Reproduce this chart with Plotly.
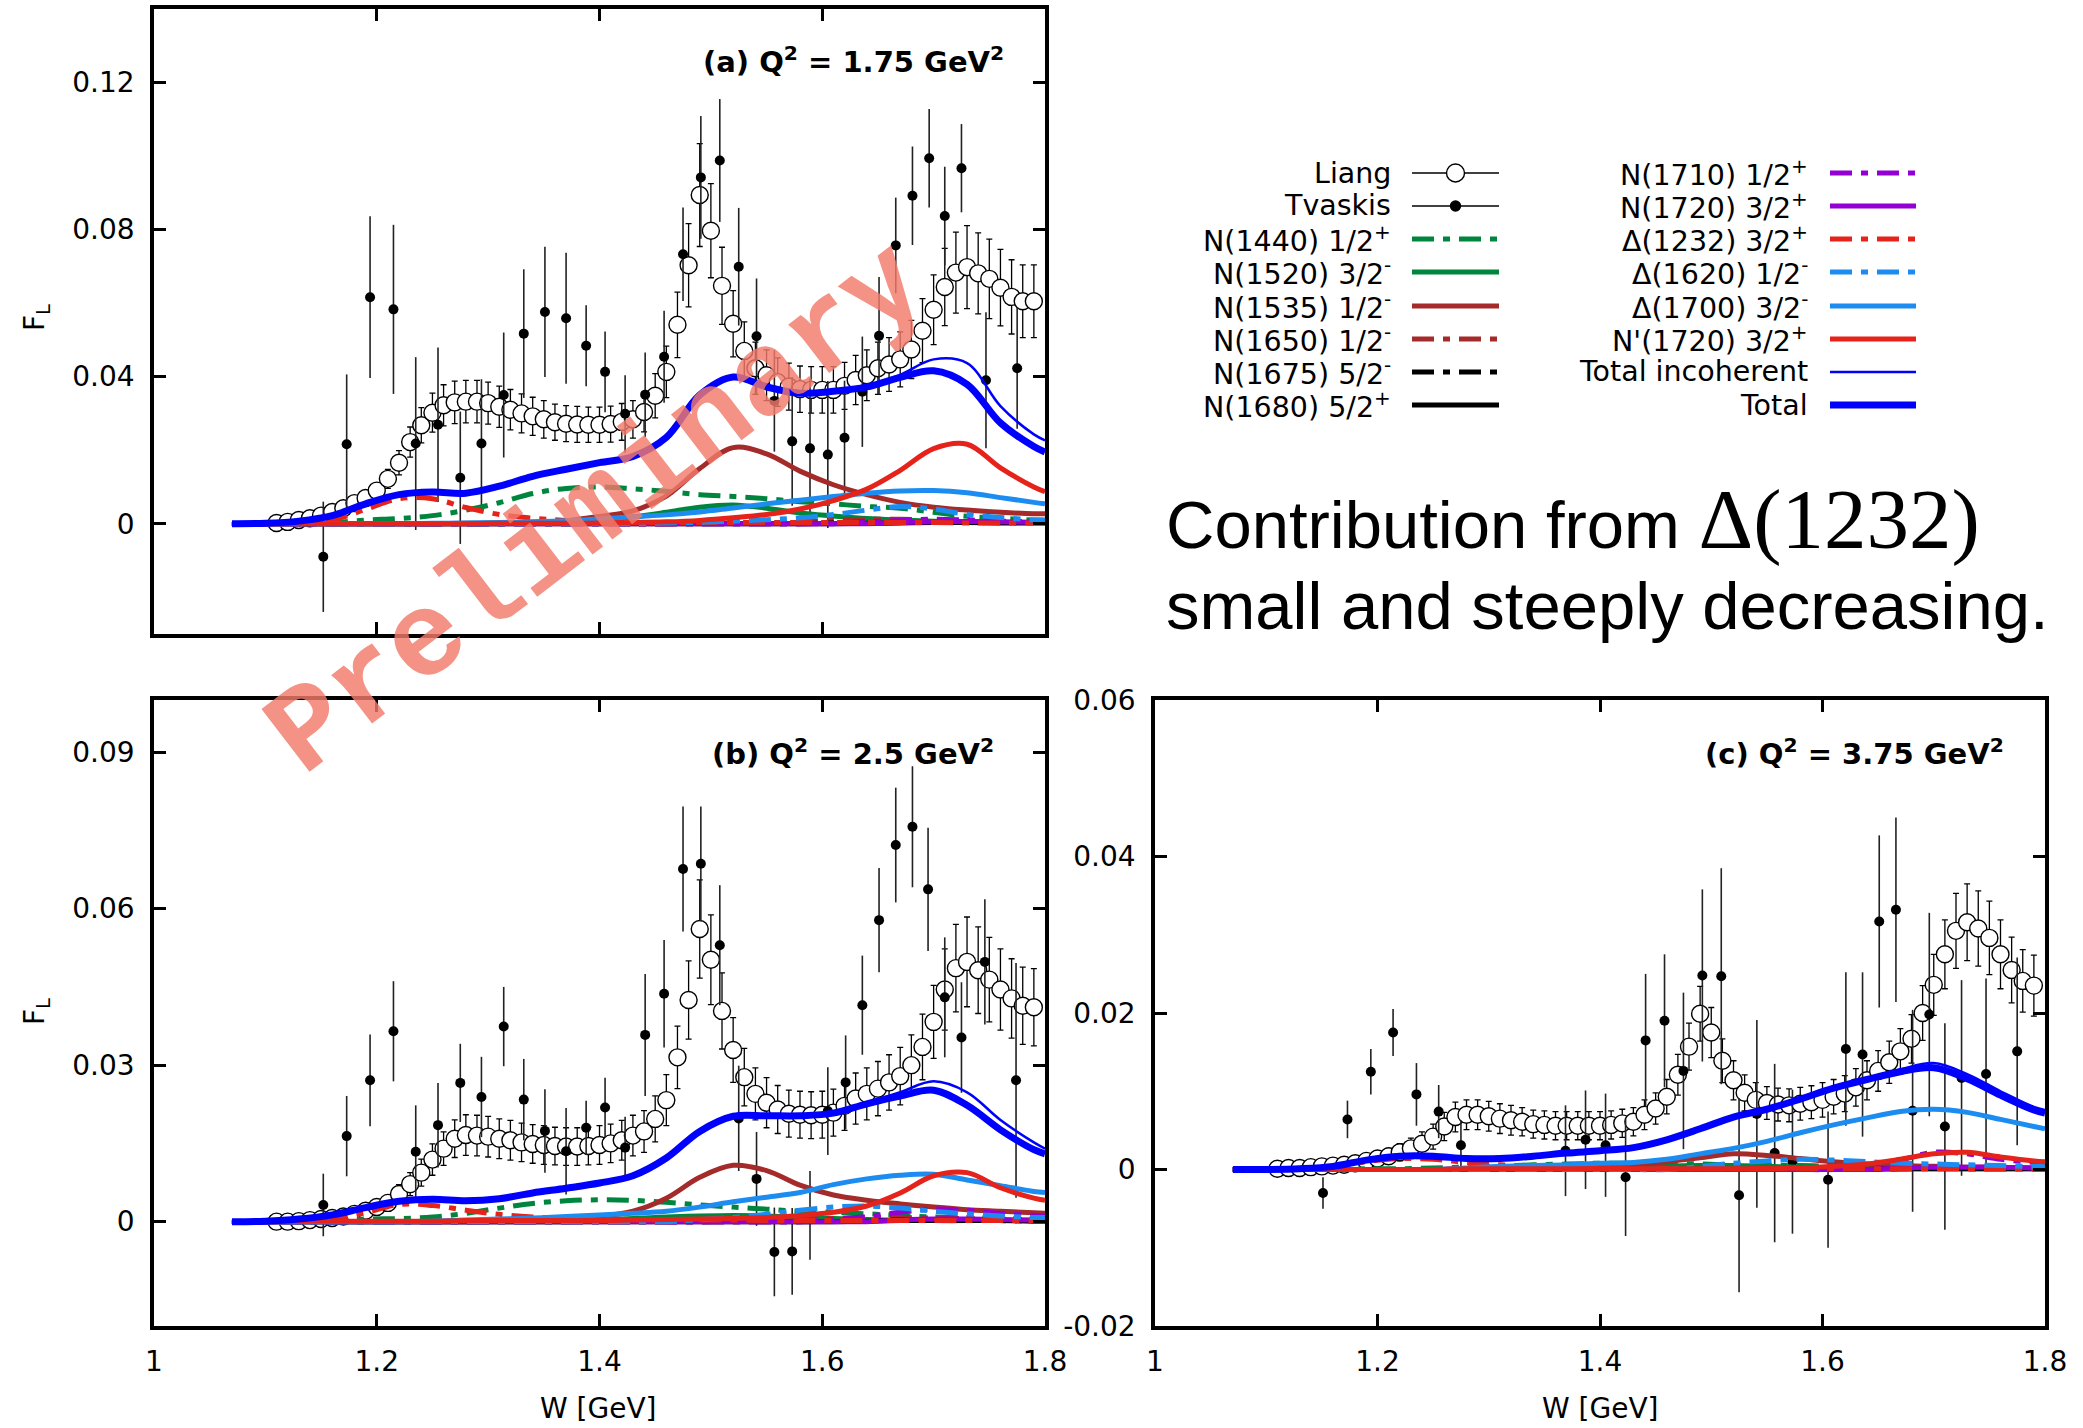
import plotly.graph_objects as go

W_PX, H_PX = 2083, 1428

# ---------------- data ----------------
W_curve = [1.07, 1.10, 1.13, 1.16, 1.19, 1.22, 1.25, 1.28, 1.31, 1.34, 1.37, 1.40, 1.43,
           1.46, 1.49, 1.52, 1.55, 1.58, 1.61, 1.64, 1.67, 1.70, 1.73, 1.76, 1.79, 1.80]

W_liang = [1.11, 1.12, 1.13, 1.14, 1.15, 1.16, 1.17, 1.18, 1.19, 1.20, 1.21, 1.22, 1.23,
           1.24, 1.25, 1.26, 1.27, 1.28, 1.29, 1.30, 1.31, 1.32, 1.33, 1.34, 1.35, 1.36,
           1.37, 1.38, 1.39, 1.40, 1.41, 1.42, 1.43, 1.44, 1.45, 1.46, 1.47, 1.48, 1.49,
           1.50, 1.51, 1.52, 1.53, 1.54, 1.55, 1.56, 1.57, 1.58, 1.59, 1.60, 1.61, 1.62,
           1.63, 1.64, 1.65, 1.66, 1.67, 1.68, 1.69, 1.70, 1.71, 1.72, 1.73, 1.74, 1.75,
           1.76, 1.77, 1.78, 1.79]

# ---- panel (a) Q2 = 1.75
a_liang = [0.0002, 0.0005, 0.0010, 0.0015, 0.0022, 0.0032, 0.0042, 0.0056, 0.0070, 0.0090,
           0.0122, 0.0166, 0.0222, 0.0268, 0.0302, 0.0322, 0.0330, 0.0332, 0.0332, 0.0328,
           0.0318, 0.0310, 0.0300, 0.0292, 0.0284, 0.0276, 0.0272, 0.0270, 0.0269, 0.0269,
           0.0271, 0.0277, 0.0284, 0.0304, 0.0348, 0.0413, 0.0541, 0.0703, 0.0894, 0.0797,
           0.0647, 0.0544, 0.0470, 0.0423, 0.0404, 0.0385, 0.0373, 0.0366, 0.0364, 0.0364,
           0.0364, 0.0375, 0.0391, 0.0404, 0.0423, 0.0433, 0.0447, 0.0474, 0.0525, 0.0582,
           0.0644, 0.0683, 0.0698, 0.0681, 0.0666, 0.0642, 0.0617, 0.0605, 0.0605]
a_liang_err = [0.0008, 0.0009, 0.0010, 0.0010, 0.0011, 0.0013, 0.0014, 0.0016, 0.0019, 0.0022,
               0.0026, 0.0033, 0.0041, 0.0048, 0.0053, 0.0056, 0.0058, 0.0058, 0.0058, 0.0057,
               0.0056, 0.0055, 0.0053, 0.0052, 0.0051, 0.0049, 0.0049, 0.0049, 0.0048, 0.0048,
               0.0049, 0.0050, 0.0051, 0.0054, 0.0060, 0.0070, 0.0089, 0.0113, 0.0140, 0.0128,
               0.0105, 0.0090, 0.0079, 0.0071, 0.0069, 0.0066, 0.0064, 0.0063, 0.0063, 0.0063,
               0.0063, 0.0064, 0.0067, 0.0069, 0.0071, 0.0073, 0.0075, 0.0079, 0.0087, 0.0095,
               0.0105, 0.0110, 0.0113, 0.0110, 0.0108, 0.0104, 0.0101, 0.0099, 0.0099]

a_W_tv = [1.152, 1.173, 1.194, 1.215, 1.235, 1.255, 1.275, 1.294, 1.314, 1.332, 1.351, 1.370,
          1.388, 1.405, 1.423, 1.441, 1.458, 1.475, 1.491, 1.508, 1.525, 1.541, 1.557, 1.573,
          1.589, 1.605, 1.620, 1.636, 1.651, 1.666, 1.681, 1.696, 1.710, 1.725, 1.747, 1.775]
a_tv = [-0.0090, 0.0216, 0.0616, 0.0583, 0.0218, 0.0269, 0.0125, 0.0218, 0.0350, 0.0517,
        0.0576, 0.0559, 0.0484, 0.0413, 0.0299, 0.0351, 0.0454, 0.0733, 0.0942, 0.0988,
        0.0699, 0.0510, 0.0334, 0.0224, 0.0205, 0.0188, 0.0234, 0.0359, 0.0511, 0.0757,
        0.0892, 0.0994, 0.0837, 0.0967, 0.0390, 0.0423]
a_tv_err = [0.0150, 0.0190, 0.0220, 0.0230, 0.0235, 0.0210, 0.0180, 0.0175, 0.0170, 0.0175,
            0.0177, 0.0178, 0.0110, 0.0110, 0.0105, 0.0115, 0.0125, 0.0127, 0.0167, 0.0167,
            0.0160, 0.0157, 0.0138, 0.0175, 0.0190, 0.0200, 0.0155, 0.0150, 0.0160, 0.0130,
            0.0134, 0.0134, 0.0134, 0.0120, 0.0185, 0.0165]

a_N1440 = [0, 0, 0.0001, 0.0003, 0.0010, 0.0014, 0.0022, 0.0037, 0.0057, 0.0082, 0.0096, 0.0100, 0.0095,
           0.0088, 0.0079, 0.0074, 0.0068, 0.0060, 0.0054, 0.0047, 0.0042, 0.0031, 0.0020, 0.0015, 0.0010, 0.0010]
a_N1520 = [0, 0, 0, 0, 0, 0, 0, 0, 0, 0.0002, 0.0004, 0.0008, 0.0018,
           0.0031, 0.0045, 0.0051, 0.0042, 0.0029, 0.0021, 0.0014, 0.0010, 0.0007, 0.0005, 0.0004, 0.0003, 0.0003]
a_N1535 = [0, 0, 0, 0, 0, 0, 0, 0.0001, 0.0002, 0.0004, 0.0008, 0.0020, 0.0035,
           0.0075, 0.0150, 0.0207, 0.0190, 0.0143, 0.0106, 0.0079, 0.0058, 0.0045, 0.0037, 0.0031, 0.0027, 0.0027]
a_N1650 = [0, 0, 0, 0, 0, 0, 0, 0, 0, 0, 0, 0, 0,
           0, 0.0001, 0.0001, 0.0002, 0.0005, 0.0009, 0.0012, 0.0012, 0.0010, 0.0008, 0.0006, 0.0005, 0.0005]
a_N1675 = [0, 0, 0, 0, 0, 0, 0, 0, 0, 0, 0, 0, 0,
           0, 0, 0, 0, 0, 0.0002, 0.0004, 0.0005, 0.0005, 0.0004, 0.0003, 0.0003, 0.0003]
a_N1680 = [0, 0, 0, 0, 0, 0, 0, 0, 0, 0, 0, 0, 0,
           0, 0, 0, 0, 0, 0, 0.0001, 0.0002, 0.0003, 0.0003, 0.0002, 0.0002, 0.0002]
a_N1710 = [0, 0, 0, 0, 0, 0, 0, 0, 0, 0, 0, 0, 0,
           0, 0, 0, 0, 0, 0, 0.0004, 0.0009, 0.0012, 0.0010, 0.0007, 0.0005, 0.0005]
a_N1720 = [0, 0, 0, 0, 0, 0, 0, 0, 0, 0, 0, 0, 0,
           0, 0, 0, 0, 0, 0, 0, 0.0003, 0.0005, 0.0006, 0.0005, 0.0004, 0.0004]
a_D1232 = [0, 0, 0.0002, 0.0010, 0.0039, 0.0068, 0.0068, 0.0044, 0.0025, 0.0015, 0.0009, 0.0006, 0.0004,
           0.0003, 0.0003, 0.0003, 0.0003, 0.0003, 0.0003, 0.0003, 0.0003, 0.0003, 0.0002, 0.0002, 0.0002, 0.0002]
a_D1620 = [0, 0, 0, 0, 0, 0, 0, 0, 0, 0, 0, 0, 0,
           0.0002, 0.0004, 0.0007, 0.0011, 0.0016, 0.0025, 0.0037, 0.0047, 0.0040, 0.0025, 0.0017, 0.0010, 0.0009]
a_D1700 = [0, 0, 0, 0, 0, 0, 0.0001, 0.0002, 0.0003, 0.0005, 0.0008, 0.0013, 0.0019,
           0.0024, 0.0032, 0.0043, 0.0054, 0.0064, 0.0074, 0.0083, 0.0089, 0.0090, 0.0084, 0.0071, 0.0058, 0.0054]
a_Np1720 = [0, 0, 0, 0, 0, 0, 0, 0, 0.0001, 0.0001, 0.0001, 0.0002, 0.0003,
            0.0005, 0.0009, 0.0016, 0.0025, 0.0040, 0.0063, 0.0094, 0.0145, 0.0204, 0.0216, 0.0152, 0.0100, 0.0087]
a_incoh = [0, 0.0001, 0.0007, 0.0022, 0.0054, 0.0079, 0.0086, 0.0083, 0.0102, 0.0129, 0.0148, 0.0166, 0.0183,
           0.0235, 0.0350, 0.0399, 0.0372, 0.0356, 0.0361, 0.0375, 0.0405, 0.0447, 0.0437, 0.0320, 0.0243, 0.0227]
a_total = [0, 0.0001, 0.0007, 0.0022, 0.0054, 0.0079, 0.0086, 0.0083, 0.0102, 0.0129, 0.0148, 0.0166, 0.0183,
           0.0235, 0.0350, 0.0399, 0.0372, 0.0355, 0.0360, 0.0372, 0.0398, 0.0416, 0.0379, 0.0274, 0.0210, 0.0195]

# ---- panel (b) Q2 = 2.5
b_liang = [0.0000, 0.0000, 0.0001, 0.0003, 0.0005, 0.0007, 0.0010, 0.0015, 0.0021, 0.0028,
           0.0036, 0.0053, 0.0072, 0.0094, 0.0119, 0.0140, 0.0159, 0.0166, 0.0165, 0.0163,
           0.0159, 0.0156, 0.0152, 0.0149, 0.0147, 0.0145, 0.0144, 0.0144, 0.0145, 0.0147,
           0.0150, 0.0156, 0.0165, 0.0173, 0.0197, 0.0233, 0.0315, 0.0425, 0.0561, 0.0502,
           0.0404, 0.0329, 0.0277, 0.0245, 0.0228, 0.0215, 0.0207, 0.0205, 0.0204, 0.0205,
           0.0209, 0.0222, 0.0236, 0.0245, 0.0255, 0.0267, 0.0279, 0.0300, 0.0335, 0.0383,
           0.0445, 0.0486, 0.0498, 0.0482, 0.0464, 0.0445, 0.0428, 0.0414, 0.0411]
b_liang_err = [0.0006, 0.0006, 0.0006, 0.0007, 0.0007, 0.0008, 0.0009, 0.0010, 0.0011, 0.0013,
               0.0015, 0.0018, 0.0022, 0.0026, 0.0030, 0.0032, 0.0036, 0.0039, 0.0039, 0.0039,
               0.0038, 0.0038, 0.0037, 0.0037, 0.0037, 0.0036, 0.0036, 0.0036, 0.0036, 0.0037,
               0.0037, 0.0038, 0.0039, 0.0040, 0.0044, 0.0049, 0.0060, 0.0075, 0.0094, 0.0086,
               0.0073, 0.0062, 0.0055, 0.0050, 0.0048, 0.0046, 0.0045, 0.0045, 0.0045, 0.0045,
               0.0045, 0.0047, 0.0049, 0.0050, 0.0052, 0.0053, 0.0055, 0.0058, 0.0063, 0.0070,
               0.0078, 0.0084, 0.0086, 0.0083, 0.0081, 0.0078, 0.0076, 0.0074, 0.0074]

b_W_tv = [1.152, 1.173, 1.194, 1.215, 1.235, 1.255, 1.275, 1.294, 1.314, 1.332, 1.351, 1.370,
          1.388, 1.405, 1.423, 1.441, 1.458, 1.475, 1.491, 1.508, 1.525, 1.541, 1.557, 1.573,
          1.589, 1.605, 1.621, 1.636, 1.651, 1.666, 1.681, 1.695, 1.710, 1.725, 1.746, 1.774]
b_tv = [0.0032, 0.0164, 0.0271, 0.0365, 0.0134, 0.0185, 0.0266, 0.0239, 0.0374, 0.0234,
        0.0174, 0.0135, 0.0180, 0.0219, 0.0142, 0.0358, 0.0437, 0.0676, 0.0686, 0.0530,
        0.0198, 0.0082, -0.0058, -0.0057, 0.0012, 0.0212, 0.0267, 0.0415, 0.0578, 0.0722,
        0.0757, 0.0637, 0.0430, 0.0353, 0.0498, 0.0271]
b_tv_err = [0.0060, 0.0077, 0.0088, 0.0096, 0.0089, 0.0081, 0.0075, 0.0077, 0.0076, 0.0078,
            0.0080, 0.0083, 0.0052, 0.0057, 0.0059, 0.0117, 0.0103, 0.0120, 0.0110, 0.0115,
            0.0101, 0.0090, 0.0085, 0.0083, 0.0085, 0.0084, 0.0090, 0.0095, 0.0100, 0.0110,
            0.0116, 0.0118, 0.0115, 0.0106, 0.0120, 0.0225]

b_N1440 = [0, 0, 0, 0.0002, 0.0005, 0.0006, 0.0009, 0.0016, 0.0026, 0.0035, 0.0040, 0.0042, 0.0041,
           0.0037, 0.0032, 0.0028, 0.0024, 0.0020, 0.0018, 0.0015, 0.0012, 0.0009, 0.0008, 0.0006, 0.0005, 0.0005]
b_N1520 = [0, 0, 0, 0, 0, 0, 0, 0, 0, 0, 0, 0.0003, 0.0006,
           0.0009, 0.0011, 0.0012, 0.0011, 0.0008, 0.0006, 0.0004, 0.0003, 0.0002, 0.0002, 0.0002, 0.0002, 0.0002]
b_N1535 = [0, 0, 0, 0, 0, 0, 0, 0, 0.0001, 0.0003, 0.0006, 0.0010, 0.0020,
           0.0045, 0.0085, 0.0108, 0.0098, 0.0070, 0.0051, 0.0041, 0.0034, 0.0028, 0.0023, 0.0020, 0.0017, 0.0016]
b_N1650 = [0, 0, 0, 0, 0, 0, 0, 0, 0, 0, 0, 0, 0,
           0, 0, 0.0001, 0.0002, 0.0004, 0.0006, 0.0008, 0.0008, 0.0007, 0.0006, 0.0005, 0.0004, 0.0004]
b_N1675 = [0, 0, 0, 0, 0, 0, 0, 0, 0, 0, 0, 0, 0,
           0, 0, 0, 0, 0, 0.0001, 0.0002, 0.0003, 0.0003, 0.0003, 0.0002, 0.0002, 0.0002]
b_N1680 = [0, 0, 0, 0, 0, 0, 0, 0, 0, 0, 0, 0, 0,
           0, 0, 0, 0, 0, 0, 0.0001, 0.0002, 0.0002, 0.0002, 0.0002, 0.0001, 0.0001]
b_N1710 = [0, 0, 0, 0, 0, 0, 0, 0, 0, 0, 0, 0, 0,
           0, 0, 0, 0, 0, 0.0004, 0.0010, 0.0018, 0.0024, 0.0022, 0.0016, 0.0012, 0.0011]
b_N1720 = [0, 0, 0, 0, 0, 0, 0, 0, 0, 0, 0, 0, 0,
           0, 0, 0, 0, 0, 0, 0, 0.0003, 0.0005, 0.0005, 0.0004, 0.0003, 0.0003]
b_D1232 = [0, 0, 0, 0.0005, 0.0017, 0.0033, 0.0031, 0.0022, 0.0014, 0.0009, 0.0006, 0.0005, 0.0004,
           0.0003, 0.0003, 0.0003, 0.0002, 0.0002, 0.0002, 0.0002, 0.0002, 0.0002, 0.0002, 0.0002, 0.0002, 0.0002]
b_D1620 = [0, 0, 0, 0, 0, 0, 0, 0, 0, 0, 0, 0, 0,
           0, 0.0004, 0.0008, 0.0014, 0.0022, 0.0028, 0.0030, 0.0026, 0.0020, 0.0015, 0.0011, 0.0008, 0.0008]
b_D1700 = [0, 0, 0, 0, 0, 0, 0.0001, 0.0003, 0.0005, 0.0007, 0.0010, 0.0013, 0.0016,
           0.0020, 0.0028, 0.0038, 0.0047, 0.0056, 0.0071, 0.0082, 0.0089, 0.0091, 0.0080, 0.0069, 0.0058, 0.0056]
b_Np1720 = [0, 0, 0.0001, 0.0001, 0.0001, 0.0001, 0.0001, 0.0002, 0.0002, 0.0002, 0.0002, 0.0002, 0.0003,
            0.0004, 0.0005, 0.0006, 0.0008, 0.0012, 0.0018, 0.0030, 0.0055, 0.0088, 0.0094, 0.0065, 0.0045, 0.0041]
b_incoh = [0, 0.0001, 0.0005, 0.0013, 0.0027, 0.0039, 0.0043, 0.0040, 0.0044, 0.0055, 0.0064, 0.0074, 0.0088,
           0.0122, 0.0173, 0.0202, 0.0203, 0.0203, 0.0208, 0.0228, 0.0248, 0.0269, 0.0248, 0.0195, 0.0152, 0.0140]
b_total = [0, 0.0001, 0.0005, 0.0013, 0.0027, 0.0039, 0.0043, 0.0040, 0.0044, 0.0055, 0.0064, 0.0074, 0.0088,
           0.0122, 0.0173, 0.0202, 0.0203, 0.0203, 0.0208, 0.0226, 0.0241, 0.0252, 0.0223, 0.0176, 0.0138, 0.0130]

# ---- panel (c) Q2 = 3.75
c_liang = [0.0001, 0.0002, 0.0002, 0.0003, 0.0004, 0.0005, 0.0006, 0.0008, 0.0011, 0.0014,
           0.0017, 0.0022, 0.0027, 0.0033, 0.0042, 0.0055, 0.0067, 0.0070, 0.0070, 0.0068,
           0.0065, 0.0063, 0.0061, 0.0058, 0.0057, 0.0056, 0.0056, 0.0056, 0.0056, 0.0056,
           0.0057, 0.0059, 0.0061, 0.0070, 0.0078, 0.0093, 0.0121, 0.0157, 0.0199, 0.0175,
           0.0139, 0.0114, 0.0098, 0.0089, 0.0085, 0.0083, 0.0082, 0.0084, 0.0086, 0.0089,
           0.0093, 0.0097, 0.0105, 0.0114, 0.0126, 0.0137, 0.0151, 0.0167, 0.0200, 0.0236,
           0.0275, 0.0305, 0.0316, 0.0308, 0.0296, 0.0275, 0.0255, 0.0241, 0.0235]
c_liang_err = [0.0004, 0.0004, 0.0004, 0.0005, 0.0005, 0.0006, 0.0006, 0.0007, 0.0008, 0.0009,
               0.0010, 0.0011, 0.0013, 0.0015, 0.0016, 0.0018, 0.0019, 0.0019, 0.0019, 0.0019,
               0.0019, 0.0019, 0.0018, 0.0018, 0.0018, 0.0018, 0.0018, 0.0018, 0.0018, 0.0018,
               0.0018, 0.0018, 0.0018, 0.0019, 0.0020, 0.0022, 0.0026, 0.0030, 0.0035, 0.0032,
               0.0028, 0.0025, 0.0023, 0.0022, 0.0021, 0.0021, 0.0021, 0.0021, 0.0021, 0.0022,
               0.0022, 0.0023, 0.0024, 0.0025, 0.0026, 0.0027, 0.0029, 0.0031, 0.0035, 0.0039,
               0.0044, 0.0048, 0.0049, 0.0048, 0.0047, 0.0044, 0.0042, 0.0040, 0.0039]

c_W_tv = [1.151, 1.173, 1.194, 1.214, 1.235, 1.255, 1.275, 1.369, 1.387, 1.405, 1.423, 1.441,
          1.458, 1.475, 1.492, 1.509, 1.525, 1.541, 1.557, 1.573, 1.605, 1.621, 1.636, 1.651,
          1.666, 1.681, 1.696, 1.710, 1.725, 1.747, 1.775]
c_tv = [-0.0030, 0.0064, 0.0125, 0.0175, 0.0096, 0.0074, 0.0031, 0.0024, 0.0038, 0.0031,
        -0.0010, 0.0165, 0.0190, 0.0126, 0.0248, 0.0247, -0.0033, 0.0071, 0.0021, 0.0010,
        -0.0013, 0.0154, 0.0147, 0.0317, 0.0332, 0.0075, 0.0198, 0.0055, 0.0117, 0.0122, 0.0151]
c_tv_err = [0.0020, 0.0024, 0.0029, 0.0030, 0.0040, 0.0034, 0.0032, 0.0058, 0.0063, 0.0066,
            0.0075, 0.0085, 0.0085, 0.0100, 0.0110, 0.0138, 0.0124, 0.0120, 0.0114, 0.0092,
            0.0087, 0.0098, 0.0105, 0.0110, 0.0118, 0.0129, 0.0130, 0.0132, 0.0125, 0.0122, 0.0120]

c_N1440 = [0, 0, 0, 0, 0.0001, 0.0001, 0.0002, 0.0003, 0.0004, 0.0006, 0.0007, 0.0008, 0.0008,
           0.0008, 0.0007, 0.0006, 0.0005, 0.0005, 0.0004, 0.0003, 0.0003, 0.0002, 0.0002, 0.0002, 0.0001, 0.0001]
c_N1520 = [0, 0, 0, 0, 0, 0, 0, 0, 0, 0, 0, 0, 0.0002,
           0.0004, 0.0005, 0.0005, 0.0004, 0.0003, 0.0002, 0.0002, 0.0001, 0.0001, 0.0001, 0.0001, 0.0001, 0.0001]
c_N1535 = [0, 0, 0, 0, 0, 0, 0, 0, 0, 0, 0.0002, 0.0003, 0.0006,
           0.0010, 0.0015, 0.0020, 0.0018, 0.0014, 0.0010, 0.0007, 0.0005, 0.0004, 0.0003, 0.0003, 0.0002, 0.0002]
c_N1650 = [0, 0, 0, 0, 0, 0, 0, 0, 0, 0, 0, 0, 0,
           0, 0, 0, 0.0001, 0.0002, 0.0003, 0.0003, 0.0003, 0.0003, 0.0002, 0.0002, 0.0002, 0.0002]
c_N1675 = [0, 0, 0, 0, 0, 0, 0, 0, 0, 0, 0, 0, 0,
           0, 0, 0, 0, 0, 0, 0.0001, 0.0001, 0.0002, 0.0001, 0.0001, 0.0001, 0.0001]
c_N1680 = [0, 0, 0, 0, 0, 0, 0, 0, 0, 0, 0, 0, 0,
           0, 0, 0, 0, 0, 0, 0, 0.0001, 0.0001, 0.0001, 0.0001, 0.0001, 0.0001]
c_N1710 = [0, 0, 0, 0, 0, 0, 0, 0, 0, 0, 0, 0, 0,
           0, 0, 0, 0, 0, 0, 0.0004, 0.0012, 0.0022, 0.0020, 0.0013, 0.0009, 0.0008]
c_N1720 = [0, 0, 0, 0, 0, 0, 0, 0, 0, 0, 0, 0, 0,
           0, 0, 0, 0, 0, 0, 0, 0.0002, 0.0003, 0.0003, 0.0003, 0.0002, 0.0002]
c_D1232 = [0, 0, 0.0001, 0.0004, 0.0010, 0.0014, 0.0013, 0.0009, 0.0006, 0.0004, 0.0003, 0.0002, 0.0001,
           0.0001, 0.0001, 0.0001, 0.0001, 0.0001, 0.0001, 0.0001, 0.0001, 0.0001, 0.0001, 0.0001, 0.0001, 0.0001]
c_D1620 = [0, 0, 0, 0, 0, 0, 0, 0, 0, 0, 0, 0, 0,
           0, 0.0004, 0.0008, 0.0011, 0.0013, 0.0012, 0.0010, 0.0008, 0.0007, 0.0006, 0.0005, 0.0004, 0.0004]
c_D1700 = [0, 0, 0, 0, 0, 0, 0, 0.0002, 0.0004, 0.0005, 0.0006, 0.0008, 0.0009,
           0.0013, 0.0020, 0.0027, 0.0036, 0.0047, 0.0057, 0.0066, 0.0074, 0.0077, 0.0073, 0.0064, 0.0055, 0.0052]
c_Np1720 = [0, 0, 0, 0, 0, 0, 0, 0.0001, 0.0001, 0.0001, 0.0001, 0.0001, 0.0001,
            0.0001, 0.0001, 0.0001, 0.0001, 0.0002, 0.0004, 0.0007, 0.0013, 0.0020, 0.0022, 0.0016, 0.0011, 0.0010]
c_incoh = [0, 0, 0.0001, 0.0004, 0.0012, 0.0017, 0.0017, 0.0014, 0.0014, 0.0017, 0.0021, 0.0024, 0.0028,
           0.0038, 0.0052, 0.0067, 0.0077, 0.0090, 0.0104, 0.0116, 0.0128, 0.0136, 0.0122, 0.0100, 0.0080, 0.0076]
c_total = [0, 0, 0.0001, 0.0004, 0.0012, 0.0017, 0.0017, 0.0014, 0.0014, 0.0017, 0.0021, 0.0024, 0.0028,
           0.0038, 0.0052, 0.0067, 0.0077, 0.0090, 0.0104, 0.0115, 0.0125, 0.0130, 0.0116, 0.0095, 0.0076, 0.0072]

# legend / series styling
GREEN, BROWN, BLACK = "#00853F", "#A52A2A", "#000000"
PURPLE, RED, LBLUE, BLUE = "#9400D3", "#E5231B", "#1C8CF0", "#0000FF"
DASHDOT = "22px,9px,7px,9px"

series_style = [
    ("N1440", "N(1440) 1/2<sup>+</sup>", GREEN, DASHDOT, 5),
    ("N1520", "N(1520) 3/2<sup>-</sup>", GREEN, "solid", 5),
    ("N1535", "N(1535) 1/2<sup>-</sup>", BROWN, "solid", 5),
    ("N1650", "N(1650) 1/2<sup>-</sup>", BROWN, DASHDOT, 5),
    ("N1675", "N(1675) 5/2<sup>-</sup>", BLACK, DASHDOT, 5),
    ("N1680", "N(1680) 5/2<sup>+</sup>", BLACK, "solid", 5),
    ("N1710", "N(1710) 1/2<sup>+</sup>", PURPLE, DASHDOT, 5),
    ("N1720", "N(1720) 3/2<sup>+</sup>", PURPLE, "solid", 5),
    ("D1232", "Δ(1232) 3/2<sup>+</sup>", RED, DASHDOT, 5),
    ("D1620", "Δ(1620) 1/2<sup>-</sup>", LBLUE, DASHDOT, 5),
    ("D1700", "Δ(1700) 3/2<sup>-</sup>", LBLUE, "solid", 5),
    ("Np1720", "N'(1720) 3/2<sup>+</sup>", RED, "solid", 5),
    ("incoh", "Total incoherent", BLUE, "solid", 2.5),
    ("total", "Total", BLUE, "solid", 7),
]

panels = {
    "a": dict(liang=a_liang, liang_err=a_liang_err, Wtv=a_W_tv, tv=a_tv, tv_err=a_tv_err,
              curves=dict(N1440=a_N1440, N1520=a_N1520, N1535=a_N1535, N1650=a_N1650,
                          N1675=a_N1675, N1680=a_N1680, N1710=a_N1710, N1720=a_N1720,
                          D1232=a_D1232, D1620=a_D1620, D1700=a_D1700, Np1720=a_Np1720,
                          incoh=a_incoh, total=a_total), xa="x", ya="y"),
    "b": dict(liang=b_liang, liang_err=b_liang_err, Wtv=b_W_tv, tv=b_tv, tv_err=b_tv_err,
              curves=dict(N1440=b_N1440, N1520=b_N1520, N1535=b_N1535, N1650=b_N1650,
                          N1675=b_N1675, N1680=b_N1680, N1710=b_N1710, N1720=b_N1720,
                          D1232=b_D1232, D1620=b_D1620, D1700=b_D1700, Np1720=b_Np1720,
                          incoh=b_incoh, total=b_total), xa="x2", ya="y2"),
    "c": dict(liang=c_liang, liang_err=c_liang_err, Wtv=c_W_tv, tv=c_tv, tv_err=c_tv_err,
              curves=dict(N1440=c_N1440, N1520=c_N1520, N1535=c_N1535, N1650=c_N1650,
                          N1675=c_N1675, N1680=c_N1680, N1710=c_N1710, N1720=c_N1720,
                          D1232=c_D1232, D1620=c_D1620, D1700=c_D1700, Np1720=c_Np1720,
                          incoh=c_incoh, total=c_total), xa="x3", ya="y3"),
}

fig = go.Figure()

for key, p in panels.items():
    fig.add_trace(go.Scatter(
        x=W_liang, y=p["liang"], mode="markers", xaxis=p["xa"], yaxis=p["ya"], showlegend=False,
        marker=dict(symbol="circle", size=17, color="white", line=dict(color="black", width=1.4)),
        error_y=dict(type="data", array=p["liang_err"], color="black", thickness=1.3, width=3)))
    fig.add_trace(go.Scatter(
        x=p["Wtv"], y=p["tv"], mode="markers", xaxis=p["xa"], yaxis=p["ya"], showlegend=False,
        marker=dict(symbol="circle", size=10, color="black"),
        error_y=dict(type="data", array=p["tv_err"], color="#222222", thickness=1.6, width=0)))
    for sk, label, color, dash, width in series_style:
        fig.add_trace(go.Scatter(
            x=W_curve, y=p["curves"][sk], mode="lines", xaxis=p["xa"], yaxis=p["ya"],
            showlegend=False, line=dict(color=color, width=width, dash=dash, shape="spline")))


def px_x(v):
    return v / W_PX


def px_y(v):
    return 1 - v / H_PX


FONT = "DejaVu Sans"
axis_common = dict(showline=True, linecolor="black", linewidth=3.5, mirror="ticks",
                   ticks="inside", ticklen=12, tickwidth=2.5, tickcolor="black",
                   showgrid=False, zeroline=False, automargin=False,
                   tickfont=dict(family=FONT, size=28, color="black"))
xt = dict(range=[1.0, 1.8], tickvals=[1.0, 1.2, 1.4, 1.6, 1.8],
          ticktext=["1", "1.2", "1.4", "1.6", "1.8"], ticklabelstandoff=8)

fig.update_layout(
    width=W_PX, height=H_PX, margin=dict(l=0, r=0, t=0, b=0, pad=0, autoexpand=False),
    paper_bgcolor="white", plot_bgcolor="white", showlegend=False,
    xaxis=dict(domain=[px_x(154), px_x(1045)], anchor="y", showticklabels=False, **xt, **axis_common),
    yaxis=dict(domain=[px_y(634), px_y(9)], anchor="x", range=[-0.03, 0.14],
               tickvals=[0, 0.04, 0.08, 0.12], ticktext=["0", "0.04", "0.08", "0.12"],
               ticklabelstandoff=10, **axis_common),
    xaxis2=dict(domain=[px_x(154), px_x(1045)], anchor="y2", **xt, **axis_common),
    yaxis2=dict(domain=[px_y(1326), px_y(700)], anchor="x2", range=[-0.02, 0.10],
                tickvals=[0, 0.03, 0.06, 0.09], ticktext=["0", "0.03", "0.06", "0.09"],
                ticklabelstandoff=10, **axis_common),
    xaxis3=dict(domain=[px_x(1155), px_x(2045)], anchor="y3", **xt, **axis_common),
    yaxis3=dict(domain=[px_y(1326), px_y(700)], anchor="x3", range=[-0.02, 0.06],
                tickvals=[-0.02, 0, 0.02, 0.04, 0.06], ticktext=["-0.02", "0", "0.02", "0.04", "0.06"],
                ticklabelstandoff=10, **axis_common),
)

ann = []


def add_text(text, x, y, size=28, xanchor="center", yanchor="middle", family=FONT,
             color="black", angle=0):
    ann.append(dict(text=text, x=px_x(x), y=px_y(y), xref="paper", yref="paper",
                    xanchor=xanchor, yanchor=yanchor, showarrow=False, textangle=angle,
                    font=dict(family=family, size=size, color=color)))


# panel labels
add_text("<b>(a) Q<sup>2</sup> = 1.75 GeV<sup>2</sup></b>", 1006, 60, size=29, xanchor="right")
add_text("<b>(b) Q<sup>2</sup> = 2.5 GeV<sup>2</sup></b>", 996, 752, size=29, xanchor="right")
add_text("<b>(c) Q<sup>2</sup> = 3.75 GeV<sup>2</sup></b>", 2006, 752, size=29, xanchor="right")
# axis titles
add_text("F<sub>L</sub>", 36, 318, angle=-90)
add_text("F<sub>L</sub>", 36, 1012, angle=-90)
add_text("W [GeV]", 598, 1408)
add_text("W [GeV]", 1600, 1408)

# legend
rows = [173, 206, 239, 272, 306, 339, 372, 405]
cols = [(1393, 1412, 1499), (1810, 1830, 1916)]
legend_entries = [("Liang", None), ("Tvaskis", None)] + [(s[1], s) for s in series_style]
shapes = []
for i, (label, st) in enumerate(legend_entries):
    col = cols[i // 8]
    yrow = rows[i % 8]
    add_text(label, col[0], yrow, size=28.5, xanchor="right")
    if st is None:
        shapes.append(dict(type="line", xref="paper", yref="paper",
                           x0=px_x(col[1]), x1=px_x(col[2]), y0=px_y(yrow), y1=px_y(yrow),
                           line=dict(color="black", width=1.5)))
        r = 9 if label == "Liang" else 5
        fill = "white" if label == "Liang" else "black"
        cx = (col[1] + col[2]) / 2
        shapes.append(dict(type="circle", xref="paper", yref="paper",
                           xsizemode="pixel", ysizemode="pixel",
                           xanchor=px_x(cx), yanchor=px_y(yrow),
                           x0=-r, x1=r, y0=-r, y1=r, fillcolor=fill,
                           line=dict(color="black", width=1.4)))
    else:
        _, _, color, dash, width = st
        shapes.append(dict(type="line", xref="paper", yref="paper",
                           x0=px_x(col[1]), x1=px_x(col[2]), y0=px_y(yrow), y1=px_y(yrow),
                           line=dict(color=color, width=width, dash=dash)))

# big comment text
add_text("Contribution from <span style='font-family:Liberation Serif;font-size:85px'>Δ(1232)</span>",
         1164, 519, size=67, xanchor="left", family="Liberation Sans")
add_text("small and steeply decreasing.", 1164, 605, size=67, xanchor="left", family="Liberation Sans")

# watermark
ann.append(dict(text="<b>Preliminary</b>", x=px_x(598), y=px_y(510), xref="paper", yref="paper",
                showarrow=False, textangle=-37.5, xanchor="center", yanchor="middle",
                font=dict(family="Liberation Mono", size=120, color="rgba(240,122,106,0.82)")))

fig.update_layout(annotations=ann, shapes=shapes)
fig.write_html("out.html", config={"displayModeBar": False},
               post_script="document.body.style.margin='0px';document.body.style.padding='0px';")
